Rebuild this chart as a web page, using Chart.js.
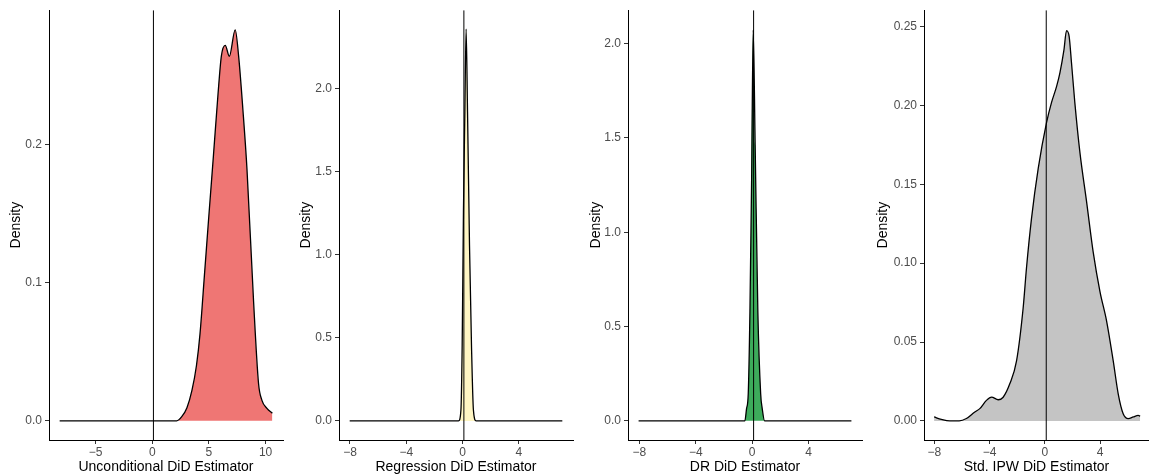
<!DOCTYPE html>
<html>
<head>
<meta charset="utf-8">
<script src="https://cdn.jsdelivr.net/npm/chart.js@4.4.1/dist/chart.umd.min.js"></script>
<style>
  html, body { margin: 0; padding: 0; background: #fff; }
  #wrap { position: relative; width: 1149px; height: 476px; overflow: hidden; }
  #wrap canvas { position: absolute; top: 0; }
</style>
</head>
<body>
<div id="wrap">
  <canvas id="p1" width="290" height="476" style="left:0px"></canvas>
  <canvas id="p2" width="290" height="476" style="left:290px"></canvas>
  <canvas id="p3" width="287" height="476" style="left:580px"></canvas>
  <canvas id="p4" width="282" height="476" style="left:867px"></canvas>
</div>
<script>
// values
const titles = ['Unconditional DiD Estimator', 'Regression DiD Estimator', 'DR DiD Estimator', 'Std. IPW DiD Estimator'];
const fills = ['#EF7674', '#FFF6C4', '#3DAB5B', '#C4C4C4'];
const vlineAt = 0.1;

const p1X = [-8.18, 2.15, 2.6, 3.06, 3.5, 3.9, 4.21, 4.6, 5.0, 5.4, 5.8, 6.1, 6.44, 6.8, 7.32, 7.62, 8.0, 8.36, 8.94, 9.38, 9.68, 10.12, 10.6];
const p1Y = [0, 0, 0.003, 0.0095, 0.022, 0.04, 0.0627, 0.105, 0.149, 0.192, 0.236, 0.264, 0.2716, 0.2637, 0.2828, 0.264, 0.225, 0.182, 0.0866, 0.027, 0.0148, 0.009, 0.0055];

const p2X = [-8.02, -0.28, -0.11, -0.02, 0.07, 0.17, 0.26, 0.36, 0.5, 0.64, 0.78, 0.97, 7.1];
const p2Y = [0, 0, 0.064, 0.46, 1.26, 1.86, 2.36, 1.86, 1.06, 0.46, 0.064, 0, 0];

const p3X = [-8.05, -0.52, -0.4, -0.28, -0.16, -0.04, 0.07, 0.21, 0.4, 0.6, 0.71, 0.88, 7.03];
const p3Y = [0, 0, 0.065, 0.144, 0.58, 1.28, 2.072, 1.46, 0.58, 0.144, 0.065, 0, 0];

const p4X = [-8.02, -7.5, -6.88, -6.2, -5.68, -5.07, -4.71, -4.23, -3.86, -3.38, -3.02, -2.54, -2.05, -1.57, -1.33, -0.97, -0.48, 0.12, 0.48, 0.85, 1.09, 1.38, 1.57, 1.76, 1.93, 2.17, 2.54, 3.02, 3.5, 3.99, 4.47, 4.95, 5.31, 5.67, 6.04, 6.4, 6.76, 6.9];
const p4Y = [0.0025, 0.001, 0, 0, 0.0015, 0.0057, 0.0078, 0.013, 0.0151, 0.0134, 0.015, 0.0235, 0.038, 0.0717, 0.0969, 0.128, 0.16, 0.189, 0.2017, 0.212, 0.2206, 0.235, 0.2474, 0.2436, 0.2268, 0.2017, 0.170, 0.139, 0.107, 0.082, 0.0633, 0.038, 0.0172, 0.0046, 0.0015, 0.0025, 0.0035, 0.003];

const xTickVals1 = [-5, 0, 5, 10];
const xTickLabels1 = ['\u22125', '0', '5', '10'];
const xTickVals2 = [-8, -4, 0, 4];
const xTickLabels2 = ['\u22128', '\u22124', '0', '4'];

const yTickVals1 = [0, 0.1, 0.2];
const yTickLabels1 = ['0.0', '0.1', '0.2'];
const yTickVals2 = [0, 0.5, 1, 1.5, 2];
const yTickLabels2 = ['0.0', '0.5', '1.0', '1.5', '2.0'];
const yTickVals4 = [0, 0.05, 0.1, 0.15, 0.2, 0.25];
const yTickLabels4 = ['0.00', '0.05', '0.10', '0.15', '0.20', '0.25'];

const font = 'Liberation Sans, Arial, Helvetica, sans-serif';

function makePanel(id, xs, ys, i, xRange, yRange, xt, xl, yt, yl, yWidth, padRight) {
  const pts = xs.map((x, k) => ({x: x, y: ys[k]}));
  new Chart(document.getElementById(id), {
    type: 'line',
    data: {
      datasets: [
        {
          data: [{x: vlineAt, y: yRange[0]}, {x: vlineAt, y: yRange[1]}],
          borderColor: '#000', borderWidth: 1, pointRadius: 0, fill: false
        },
        {
          data: pts,
          borderColor: '#000', borderWidth: 1.3, pointRadius: 0,
          backgroundColor: fills[i], fill: 'origin',
          tension: 0.4, cubicInterpolationMode: 'monotone'
        }
      ]
    },
    options: {
      responsive: false,
      animation: false,
      layout: {padding: {top: 7, right: padRight, left: 0, bottom: 0}},
      plugins: {legend: {display: false}, tooltip: {enabled: false}},
      scales: {
        x: {
          type: 'linear', min: xRange[0], max: xRange[1],
          afterBuildTicks: s => { s.ticks = xt.map(v => ({value: v})); },
          afterFit: s => { s.height = 36; },
          grid: {drawOnChartArea: false, tickLength: 4, color: '#333'},
          border: {display: true, color: '#000', width: 1},
          ticks: {
            color: '#4D4D4D', font: {family: font, size: 12}, padding: 1,
            maxRotation: 0, autoSkip: false,
            callback: (v, k) => xl[k]
          },
          title: {display: true, text: titles[i], color: '#000', font: {family: font, size: 14}, padding: {top: 0, bottom: 0}}
        },
        y: {
          min: yRange[0], max: yRange[1],
          afterBuildTicks: s => { s.ticks = yt.map(v => ({value: v})); },
          afterFit: s => { s.width = yWidth; },
          grid: {drawOnChartArea: false, tickLength: 4, color: '#333'},
          border: {display: true, color: '#000', width: 1},
          ticks: {
            color: '#4D4D4D', font: {family: font, size: 12}, padding: 3,
            autoSkip: false,
            callback: (v, k) => yl[k]
          },
          title: {display: true, text: 'Density', color: '#000', font: {family: font, size: 14}, padding: {top: 7.5, bottom: 0}}
        }
      }
    }
  });
}

makePanel('p1', p1X, p1Y, 0, [-9.12, 11.54], [-0.0139, 0.297], xTickVals1, xTickLabels1, yTickVals1, yTickLabels1, 49, 7);
makePanel('p2', p2X, p2Y, 1, [-8.78, 7.86], [-0.115, 2.474], xTickVals2, xTickLabels2, yTickVals2, yTickLabels2, 49, 7);
makePanel('p3', p3X, p3Y, 2, [-8.8, 7.78], [-0.1016, 2.177], xTickVals2, xTickLabels2, yTickVals2, yTickLabels2, 48, 5);
makePanel('p4', p4X, p4Y, 3, [-8.75, 7.54], [-0.0121, 0.2603], xTickVals2, xTickLabels2, yTickVals4, yTickLabels4, 57, 0);
</script>
</body>
</html>
